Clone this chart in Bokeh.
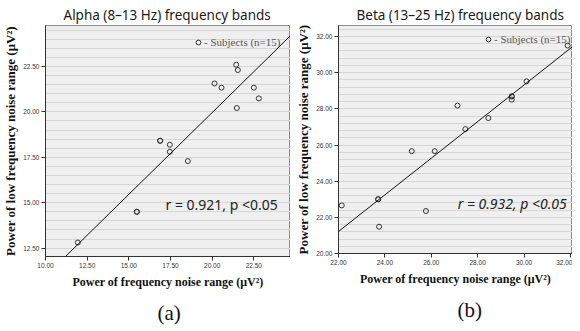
from bokeh.plotting import figure
from bokeh.layouts import row
from bokeh.models import (Range1d, SingleIntervalTicker, NumeralTickFormatter, Slope,
                          Label, Legend, LegendItem, Title)
from bokeh.embed import file_html
from bokeh.resources import INLINE

# ---- data ----
alpha_noise = [21.44, 21.54, 20.14, 20.56, 22.50, 22.80, 21.48, 16.88, 16.88,
               17.46, 17.46, 18.54, 15.48, 15.48, 11.94]
alpha_low = [22.59, 22.30, 21.56, 21.33, 21.33, 20.74, 20.21, 18.41, 18.41,
             18.19, 17.80, 17.29, 14.50, 14.50, 12.81]
beta_noise = [31.88, 30.11, 29.47, 29.47, 29.47, 27.13, 28.46, 27.47, 25.16,
              26.15, 23.71, 23.71, 22.14, 25.77, 23.75]
beta_low = [31.50, 29.52, 28.69, 28.69, 28.51, 28.18, 27.49, 26.88, 25.66,
            25.66, 23.00, 23.00, 22.66, 22.35, 21.48]
alpha_fit = {"slope": 0.90, "intercept": 1.96}
beta_fit = {"slope": 1.013, "intercept": -1.07}
alpha_stats = "r = 0.921, p <0.05"
beta_stats = "r = 0.932, p <0.05"
legend_label = "- Subjects (n=15)"
x_label = "Power of frequency noise range (\u03bcV\u00b2)"
y_label = "Power of low frequency noise range (\u03bcV\u00b2)"


def panel(title, xs, ys, xr, yr, xint, yint, fit, stats, stat_xy, italic,
          letter, letter_off, fw, fh, bl, bt, leg_xy):
    p = figure(frame_width=fw, frame_height=fh, x_range=Range1d(*xr),
               y_range=Range1d(*yr), output_backend="svg", toolbar_location=None,
               min_border_left=bl, min_border_right=0, min_border_top=bt,
               min_border_bottom=62, background_fill_color="#efefef",
               border_fill_color="white", outline_line_color="#8c8c8c")
    p.title.text = title
    p.title.text_font = "Noto Sans"
    p.title.text_font_size = "13.5px"
    p.title.text_font_style = "normal"
    p.title.text_color = "#1a1a1a"
    p.title.align = "left"
    p.title.offset = 18
    p.title.standoff = 4

    p.xaxis.ticker = SingleIntervalTicker(interval=xint, num_minor_ticks=0)
    p.yaxis.ticker = SingleIntervalTicker(interval=yint, num_minor_ticks=5)
    p.axis.formatter = NumeralTickFormatter(format="0.00")
    p.axis.major_tick_out = 4
    p.axis.major_tick_in = 0
    p.axis.minor_tick_line_color = None
    p.axis.axis_line_color = "#333333"
    p.axis.major_tick_line_color = "#333333"
    p.axis.major_label_text_font = "Liberation Sans"
    p.axis.major_label_text_font_size = "6.5px"
    p.axis.major_label_text_color = "#333333"
    p.axis.major_label_standoff = 2
    p.xaxis.axis_label = x_label
    p.yaxis.axis_label = y_label
    p.axis.axis_label_text_font = "Liberation Serif"
    p.axis.axis_label_text_font_style = "bold"
    p.axis.axis_label_text_color = "#111111"
    p.xaxis.axis_label_text_font_size = "12px"
    p.yaxis.axis_label_text_font_size = "13px"
    p.xaxis.axis_label_standoff = 4
    p.yaxis.axis_label_standoff = 2

    p.xgrid.visible = False
    p.ygrid.grid_line_color = "#d6d6d6"
    p.ygrid.minor_grid_line_color = "#d6d6d6"

    pts = p.scatter(xs, ys, marker="circle", size=5, fill_color=None,
                    line_color="#333333", line_width=1)
    p.add_layout(Slope(gradient=fit["slope"], y_intercept=fit["intercept"],
                       line_color="#111111", line_width=1))

    leg = Legend(items=[LegendItem(label=legend_label, renderers=[pts], index=0)],
                 location=leg_xy, glyph_width=12, glyph_height=12,
                 label_standoff=0, padding=0, margin=0, spacing=0,
                 label_height=12, border_line_color=None,
                 background_fill_alpha=0, label_text_font="Liberation Serif",
                 label_text_font_style="normal",
                 label_text_font_size="11px", label_text_color="#555555")
    p.add_layout(leg)

    p.add_layout(Label(x=stat_xy[0], y=stat_xy[1], text=stats,
                       text_font="Noto Sans", text_font_size="14px",
                       text_font_style="italic" if italic else "normal",
                       text_color="#222222", text_baseline="middle",
                       text_align="left"))

    p.add_layout(Title(text=letter, align="left", offset=letter_off,
                       text_font="Liberation Serif", text_font_size="21px",
                       text_font_style="normal", text_color="#111111",
                       standoff=15), "below")
    return p


p1 = panel("Alpha (8\u201313 Hz) frequency bands", alpha_noise, alpha_low,
           (10.0, 24.7), (12.04, 24.75), 2.5, 2.5, alpha_fit, alpha_stats,
           (17.2, 14.88), False, "(a)", 112, 245, 231, 37, 22, (147, 208))
p2 = panel("Beta (13\u201325 Hz) frequency bands", beta_noise, beta_low,
           (22.0, 32.09), (20.0, 32.61), 2, 2, beta_fit, beta_stats,
           (27.14, 22.76), True, "(b)", 119, 234, 228, 48, 25, (144, 208))

layout = row(p1, p2)
open("out.html", "w").write(file_html(layout, INLINE))
